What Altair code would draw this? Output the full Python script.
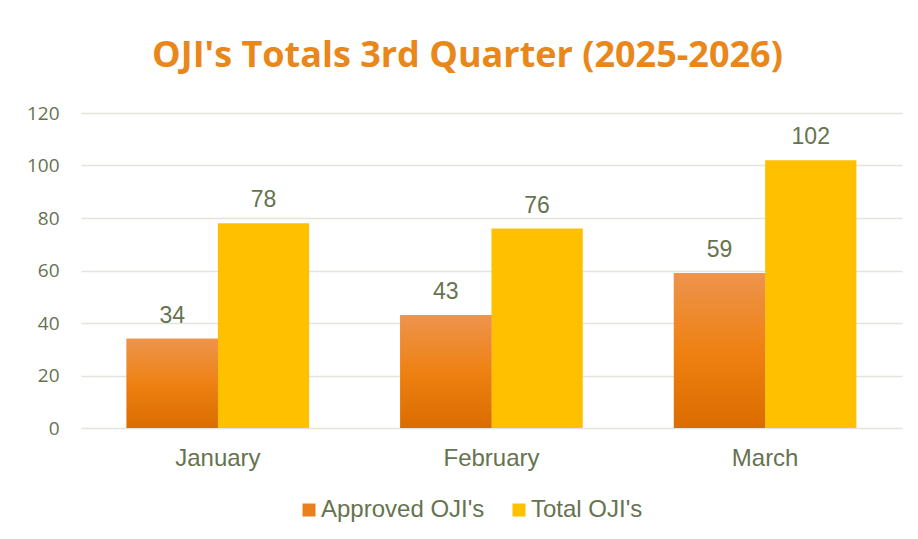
import altair as alt
import pandas as pd

months = ["January", "February", "March"]
series = ["Approved OJI's", "Total OJI's"]
approved = [34, 43, 59]
total = [78, 76, 102]
y_ticks = [0, 20, 40, 60, 80, 100, 120]

rows = []
for m, a, t in zip(months, approved, total):
    rows.append({"month": m, "series": series[0], "value": a})
    rows.append({"month": m, "series": series[1], "value": t})
df = pd.DataFrame(rows)

LABEL = "#66734F"

x_enc = alt.X("month:N", sort=months,
              scale=alt.Scale(domain=months, paddingInner=0.333, paddingOuter=0.1667),
              axis=alt.Axis(title=None, labelFont="Liberation Sans", labelFontSize=24,
                            labelColor=LABEL, labelPadding=18, ticks=False, domain=False,
                            grid=False, labelAngle=0))
xo_enc = alt.XOffset("series:N", sort=series,
                     scale=alt.Scale(domain=series, paddingInner=0, paddingOuter=0))
y_enc = alt.Y("value:Q",
              scale=alt.Scale(domain=[0, 120], nice=False),
              axis=alt.Axis(title=None, values=y_ticks, labelFont="Open Sans",
                            labelFontSize=19, labelColor=LABEL, labelPadding=22,
                            ticks=False, domain=False, grid=True, gridColor="#E4E4DF",
                            gridWidth=1.5))

base = alt.Chart(df)

bars = base.mark_bar().encode(
    x=x_enc, xOffset=xo_enc, y=y_enc,
    color=alt.Color("series:N", sort=series,
                    scale=alt.Scale(domain=series, range=["#EA7F1C", "#FFC000"]),
                    legend=alt.Legend(title=None, orient="none", direction="horizontal",
                                      legendX=216, legendY=70 + 315,
                                      symbolType="square", symbolSize=169,
                                      symbolStrokeWidth=0, labelLimit=400,
                                      labelFont="Liberation Sans", labelFontSize=24,
                                      labelColor=LABEL, labelOffset=0,
                                      columnPadding=22)),
)

grad = base.transform_filter(alt.datum.series == series[0]).mark_bar(
    color=alt.Gradient(gradient="linear", x1=0, x2=0, y1=1, y2=0,
                       stops=[alt.GradientStop(offset=0, color="#DB6D00"),
                              alt.GradientStop(offset=0.5, color="#EE8112"),
                              alt.GradientStop(offset=1, color="#EE944D")])
).encode(x=x_enc, xOffset=xo_enc, y=y_enc)

labels = base.mark_text(font="Liberation Sans", fontSize=23, color=LABEL,
                        baseline="alphabetic", dy=-16).encode(
    x=x_enc, xOffset=xo_enc, y=y_enc, text=alt.Text("value:Q"))

chart = alt.layer(bars, grad, labels).properties(
    width=821, height=315,
    autosize=alt.AutoSizeParams(type="none"),
    padding={"left": 73, "top": 105, "right": 8, "bottom": 100},
    title=alt.TitleParams("OJI's Totals 3rd Quarter (2025-2026)", font="Open Sans",
                          fontSize=36, fontWeight="bold", color="#E9871A",
                          anchor="middle", frame="group", dx=-24, offset=29),
).configure(background="white", view=alt.ViewConfig(stroke=None))

chart.save("out.html", embed_options={"renderer": "svg", "actions": False})
